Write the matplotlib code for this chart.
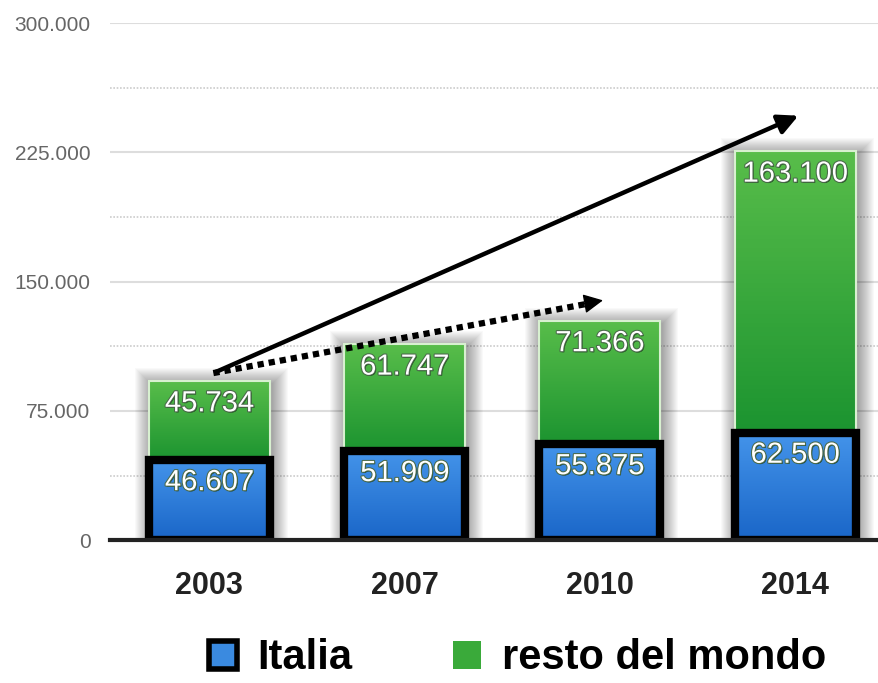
import matplotlib
matplotlib.use('Agg')
import matplotlib.pyplot as plt
import matplotlib.patheffects as pe
from matplotlib.patches import Rectangle, Patch
import numpy as np

# data
years = ['2003', '2007', '2010', '2014']
italia = [46607, 51909, 55875, 62500]
resto = [45734, 61747, 71366, 163100]
italia_lbl = ['46.607', '51.909', '55.875', '62.500']
resto_lbl = ['45.734', '61.747', '71.366', '163.100']
yticks = [0, 75000, 150000, 225000, 300000]
ytick_lbl = ['0', '75.000', '150.000', '225.000', '300.000']

plt.rcParams['font.family'] = ['Liberation Sans', 'DejaVu Sans']

fig = plt.figure(figsize=(8.79, 6.83), dpi=100)
ax = fig.add_axes([0.125, 0.209, 0.875, 0.757])

x = np.arange(len(years))
width = 0.62
px_x = 1 / 195.0      # data units per pixel, x
px_y = 75000 / 129.0  # data units per pixel, y


def gradient_bar(ax, x0, y0, w, h, c_top, c_bot, z):
    grad = np.linspace(0, 1, 64).reshape(-1, 1)
    ct = np.array(matplotlib.colors.to_rgb(c_top))
    cb = np.array(matplotlib.colors.to_rgb(c_bot))
    img = ct[None, None, :] * (1 - grad[:, :, None]) + cb[None, None, :] * grad[:, :, None]
    im = ax.imshow(img, extent=(x0, x0 + w, y0, y0 + h), origin='upper',
                   aspect='auto', zorder=z)
    clip = Rectangle((x0, y0), w, h, transform=ax.transData, facecolor='none', edgecolor='none')
    ax.add_patch(clip)
    im.set_clip_path(clip)


txt_fx = [pe.withSimplePatchShadow(offset=(0.8, -0.8), shadow_rgbFace='#1a3a1a', alpha=0.9),
          pe.withStroke(linewidth=1.5, foreground='#4a6a4a')]

for i in range(len(years)):
    x0 = x[i] - width / 2
    total = italia[i] + resto[i]
    # soft shadow, many faint layers
    for pad in range(16, 0, -1):
        ax.add_patch(Rectangle((x0 - pad * px_x + 2 * px_x, 0), width + 2 * pad * px_x,
                               total + pad * px_y - 3 * px_y,
                               facecolor='black', edgecolor='none', alpha=0.025, zorder=1))
    gradient_bar(ax, x0, italia[i], width, resto[i], '#58bd4a', '#1c9430', 2)
    ax.add_patch(Rectangle((x0, italia[i]), width, resto[i], facecolor='none',
                           edgecolor='#d8f0d0', lw=1.5, zorder=3))
    gradient_bar(ax, x0, 0, width, italia[i], '#4494ea', '#1a66c8', 2)
    ax.add_patch(Rectangle((x0, 0), width, italia[i], facecolor='none',
                           edgecolor='black', lw=6, zorder=3))
    ax.annotate(italia_lbl[i], (x[i], italia[i]), xytext=(0, -16), textcoords='offset points',
                ha='center', va='center', color='white', fontsize=21, zorder=5,
                path_effects=txt_fx)
    ax.annotate(resto_lbl[i], (x[i], total), xytext=(0, -16), textcoords='offset points',
                ha='center', va='center', color='white', fontsize=21, zorder=5,
                path_effects=txt_fx)

# arrows
ax.annotate('', xy=(3.03, 247000), xytext=(0.02, 97000),
            arrowprops=dict(arrowstyle='-|>', color='black', lw=3.2, mutation_scale=30), zorder=6)
ax.plot([0.02, 1.95], [97000, 137500], color='black', lw=4.5,
        linestyle=(0, (1.0, 0.8)), dash_capstyle='butt', zorder=6)
ax.annotate('', xy=(2.03, 139500), xytext=(1.9, 136800),
            arrowprops=dict(arrowstyle='-|>', color='black', lw=1, mutation_scale=30), zorder=6)

ax.set_xlim(-0.51, 3.43)
ax.set_ylim(0, 300000)
ax.set_yticks(yticks)
ax.set_yticklabels(ytick_lbl, color='#666666', fontsize=15)
ax.set_yticks([37500, 112500, 187500, 262500], minor=True)
ax.set_xticks(x)
ax.set_xticklabels(years, fontsize=22, fontweight='bold', color='#222222')
ax.tick_params(axis='both', which='both', length=0)
ax.tick_params(axis='x', pad=22)
ax.tick_params(axis='y', pad=14)

ax.grid(True, axis='y', which='major', color='#dddddd', lw=1.5, zorder=0)
ax.grid(True, axis='y', which='minor', color='#cccccc', lw=1.2, linestyle=(0, (1, 1)), zorder=0)
ax.set_axisbelow(True)
for s in ['top', 'right', 'left']:
    ax.spines[s].set_visible(False)
ax.spines['bottom'].set_color('#222222')
ax.spines['bottom'].set_linewidth(3)
ax.spines['bottom'].set_zorder(4)

handles = [Patch(facecolor='#3a8ae0', edgecolor='black', lw=4, label='Italia'),
           Patch(facecolor='#3aaa3a', edgecolor='none', label='resto del mondo')]
fig.legend(handles=handles, loc='center left', bbox_to_anchor=(0.214, 0.036), ncol=2,
           frameon=False, prop={'size': 30, 'weight': 'bold'}, borderpad=0,
           handlelength=0.67, handleheight=0.67, columnspacing=2.4, handletextpad=0.5)

fig.savefig('out.png', dpi=100)
